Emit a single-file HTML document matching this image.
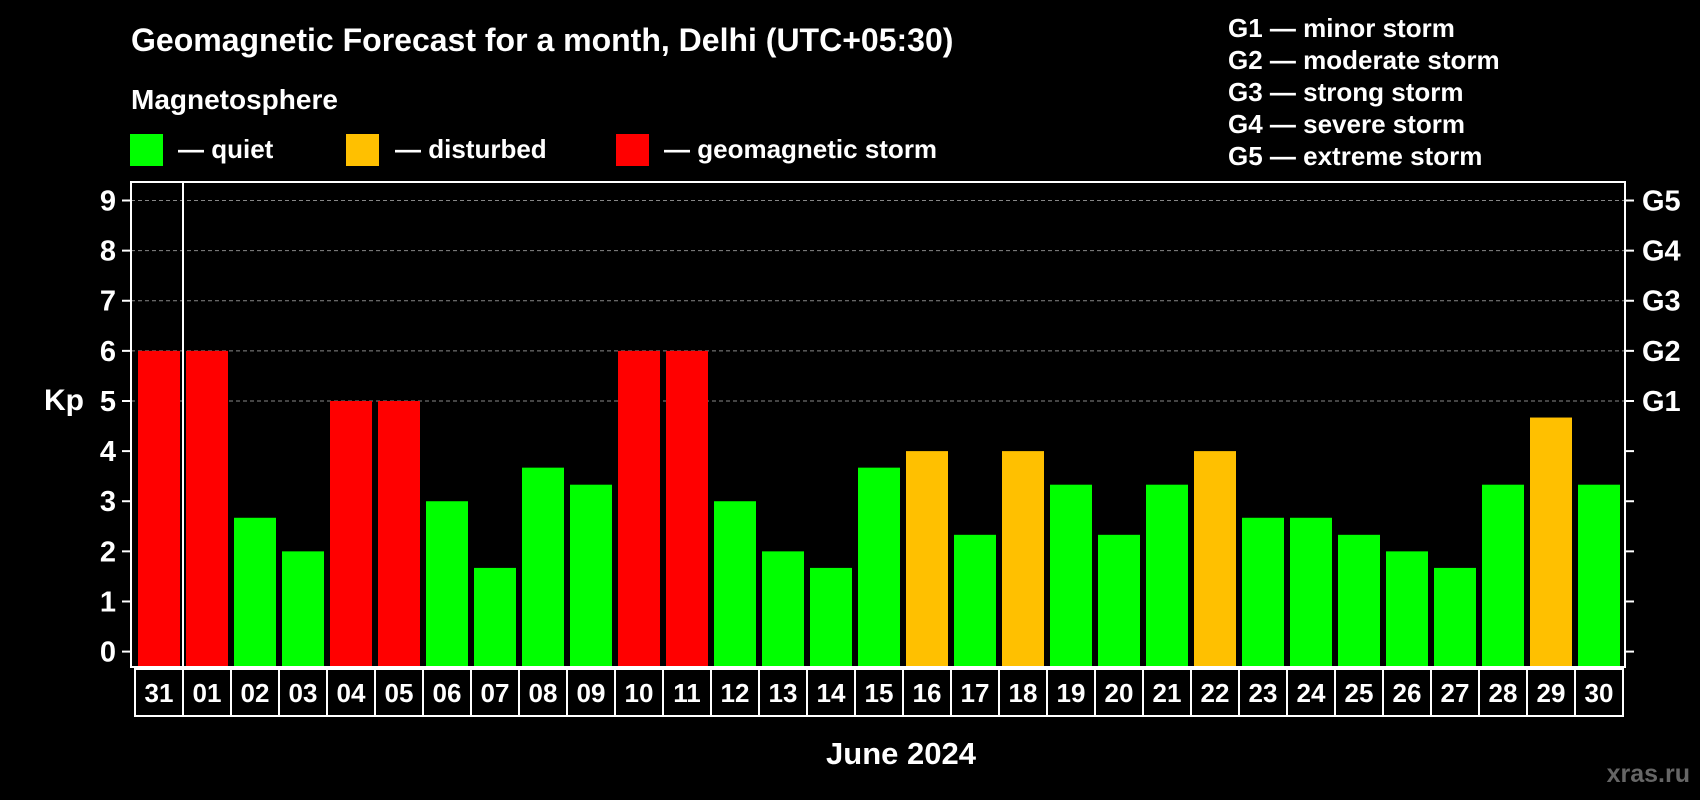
<!DOCTYPE html>
<html><head><meta charset="utf-8"><style>
html,body{margin:0;padding:0;background:#000;}
svg{display:block;font-family:"Liberation Sans",Arial,sans-serif;font-weight:bold;}
</style></head><body>
<svg id="chart" width="1700" height="800" viewBox="0 0 1700 800">
<rect width="1700" height="800" fill="#000"/>
<text x="131" y="51" font-size="32" fill="#fff">Geomagnetic Forecast for a month, Delhi (UTC+05:30)</text>
<text x="131" y="109" font-size="28" fill="#fff">Magnetosphere</text>
<g><rect x="130" y="134" width="33" height="32" fill="#00ff00"/><text x="178" y="158" font-size="26" fill="#fff">— quiet</text></g>
<g><rect x="346" y="134" width="33" height="32" fill="#ffc000"/><text x="395" y="158" font-size="26" fill="#fff">— disturbed</text></g>
<g><rect x="616" y="134" width="33" height="32" fill="#ff0000"/><text x="664" y="158" font-size="26" fill="#fff">— geomagnetic storm</text></g>
<g font-size="26" fill="#fff">
<text x="1228" y="37">G1 — minor storm</text>
<text x="1228" y="69">G2 — moderate storm</text>
<text x="1228" y="101">G3 — strong storm</text>
<text x="1228" y="133">G4 — severe storm</text>
<text x="1228" y="165">G5 — extreme storm</text>
</g>
<g id="grid"></g>
<g id="bars"></g>
<g id="axes"></g>
<text x="64" y="410" font-size="30" fill="#fff" text-anchor="middle">Kp</text>
<text x="901" y="764" font-size="31" fill="#fff" text-anchor="middle">June 2024</text>
<text x="1690" y="782" font-size="25" fill="#666" text-anchor="end">xras.ru</text>
</svg>
<script>
const days = ["31","01","02","03","04","05","06","07","08","09","10","11","12","13","14","15","16","17","18","19","20","21","22","23","24","25","26","27","28","29","30"];
const kpValues = [6,6,2.67,2,5,5,3,1.67,3.67,3.33,6,6,3,2,1.67,3.67,4,2.33,4,3.33,2.33,3.33,4,2.67,2.67,2.33,2,1.67,3.33,4.67,3.33];
const yTicks = [0,1,2,3,4,5,6,7,8,9];
const gLabels = ["G1","G2","G3","G4","G5"];
const gLevels = [5,6,7,8,9];

const NS="http://www.w3.org/2000/svg";
const plotL=131, plotR=1625, plotT=182, plotB=667;
const y0=651.6, unit=(651.6-200.5)/9;
const firstX=138, step=48, barW=42;
const yScale=v=>y0-v*unit;
const xScale=i=>firstX+i*step;
function mk(tag,attrs,parent){const e=document.createElementNS(NS,tag);for(const k in attrs)e.setAttribute(k,attrs[k]);parent.appendChild(e);return e;}
function color(v){return v>=5?"#ff0000":(v>=4?"#ffc000":"#00ff00");}
const grid=document.getElementById("grid"),bars=document.getElementById("bars"),axes=document.getElementById("axes");
gLevels.forEach((lv,i)=>{
 const l=mk("line",{x1:plotL,x2:plotR,y1:yScale(lv),y2:yScale(lv),stroke:"#888","stroke-width":1,"stroke-dasharray":"4,3"},grid);
 
 
 const t=mk("text",{x:1642,y:yScale(lv)+10,"font-size":29,fill:"#fff"},axes);
 t.textContent=gLabels[i];
 
 
});
kpValues.forEach((v,i)=>{
 const r=mk("rect",{x:xScale(i),y:yScale(v),width:barW,height:plotB-yScale(v),fill:color(v)},bars);
 
 
 const bx=135+i*step;
 const b=mk("rect",{x:bx,y:669,width:step,height:47,fill:"none",stroke:"#fff","stroke-width":2},axes);
 
 
 const t=mk("text",{x:bx+step/2,y:702,"font-size":26,fill:"#fff","text-anchor":"middle"},axes);
 t.textContent=days[i];
 
 
});
const frame=mk("rect",{x:plotL,y:plotT,width:plotR-plotL,height:plotB-plotT,fill:"none",stroke:"#fff","stroke-width":2},axes);


const div=mk("line",{x1:183,x2:183,y1:plotT,y2:plotB,stroke:"#fff","stroke-width":2},axes);


yTicks.forEach(v=>{
 const y=yScale(v);
 const a=mk("line",{x1:122,x2:plotL,y1:y,y2:y,stroke:"#fff","stroke-width":2},axes);
 
 
 const b=mk("line",{x1:plotR,x2:1634,y1:y,y2:y,stroke:"#fff","stroke-width":2},axes);
 
 
 const t=mk("text",{x:116,y:y+10,"font-size":29,fill:"#fff","text-anchor":"end"},axes);
 t.textContent=v;
 
 
});
</script>
</body></html>
